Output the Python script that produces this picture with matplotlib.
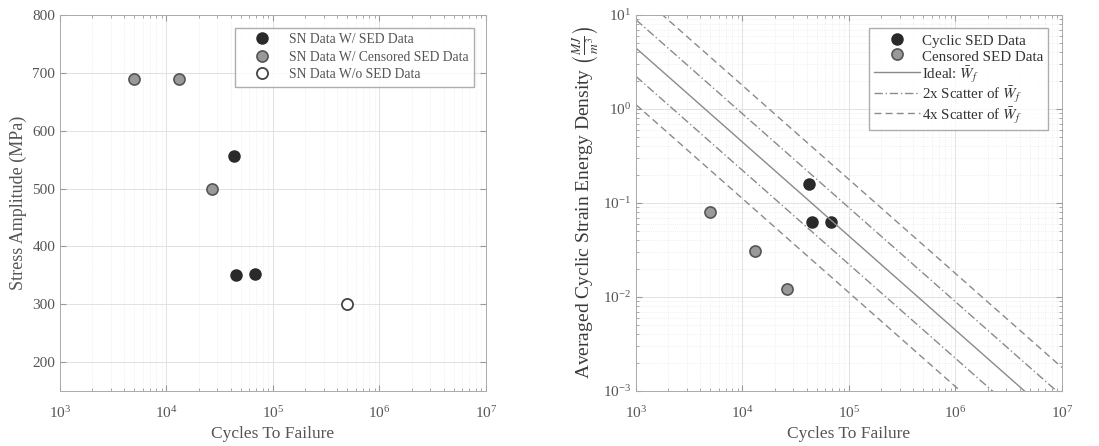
import numpy as np
import matplotlib
matplotlib.use('Agg')
import matplotlib.pyplot as plt
from matplotlib.ticker import LogLocator, NullFormatter

plt.rcParams['font.family'] = ['Liberation Serif', 'DejaVu Serif']
plt.rcParams['mathtext.fontset'] = 'stix'

# SN data (left panel)
sn_sed_N = [42700, 45300, 67800]
sn_sed_S = [557, 350, 353]
sn_cens_N = [5000, 13000, 26500]
sn_cens_S = [690, 690, 500]
sn_nosed_N = [500000]
sn_nosed_S = [300]

# SED data (right panel)
sed_N = [42400, 45200, 67100]
sed_W = [0.159, 0.0624, 0.0624]
cens_N = [5000, 13000, 26400]
cens_W = [0.081, 0.031, 0.0121]

# ideal fit W = C * N^b
fit_C = 4.45e3
fit_b = -1.0
scatter_factors = [2, 4]

dark = '#2a2a2a'
mid = '#999999'
txt = '#555555'
linecol = '#8a8a8a'

fig = plt.figure(figsize=(10.99, 4.46), dpi=100)
ax1 = fig.add_axes([0.0546, 0.1233, 0.3876, 0.843])
ax2 = fig.add_axes([0.5787, 0.1233, 0.3876, 0.843])


def style_axes(ax):
    ax.set_xscale('log')
    ax.set_xlim(1e3, 1e7)
    ax.grid(True, which='major', color='#dddddd', lw=0.6)
    ax.grid(True, which='minor', color='#e6e6e6', lw=0.5, ls=':')
    ax.tick_params(which='both', direction='in', top=True, right=True,
                   colors='#999999', labelcolor=txt, labelsize=11)
    ax.tick_params(which='major', length=4)
    ax.tick_params(which='minor', length=2)
    ax.tick_params(axis='x', which='both', pad=10)
    for sp in ax.spines.values():
        sp.set_color('#aaaaaa')
        sp.set_linewidth(0.7)
    ax.set_axisbelow(True)


# left panel
style_axes(ax1)
ms = 8
ax1.plot(sn_sed_N, sn_sed_S, 'o', ms=ms, mfc=dark, mec=dark, label='SN Data W/ SED Data')
ax1.plot(sn_cens_N, sn_cens_S, 'o', ms=ms, mfc=mid, mec='#555555', mew=1.2,
         label='SN Data W/ Censored SED Data')
ax1.plot(sn_nosed_N, sn_nosed_S, 'o', ms=ms, mfc='white', mec='#444444', mew=1.3,
         label='SN Data W/o SED Data')
ax1.set_ylim(150, 800)
ax1.set_yticks(range(200, 801, 100))
ax1.set_xlabel('Cycles To Failure', fontsize=12.5, color=txt, labelpad=4)
ax1.set_ylabel('Stress Amplitude (MPa)', fontsize=13, color=txt, labelpad=4)
leg1 = ax1.legend(loc='upper right', bbox_to_anchor=(0.972, 0.966), fontsize=9.8,
                  frameon=True, fancybox=False, edgecolor='#999999',
                  borderaxespad=0, handlelength=3.1, handletextpad=0.45,
                  borderpad=0.4, labelspacing=0.33)
for t in leg1.get_texts():
    t.set_color(txt)

# right panel
style_axes(ax2)
ax2.set_yscale('log')
ax2.set_ylim(1e-3, 1e1)
ax2.yaxis.set_minor_locator(LogLocator(base=10, subs=np.arange(2, 10)))
ax2.yaxis.set_minor_formatter(NullFormatter())
ax2.plot(sed_N, sed_W, 'o', ms=ms, mfc=dark, mec=dark, label='Cyclic SED Data')
ax2.plot(cens_N, cens_W, 'o', ms=ms, mfc=mid, mec='#555555', mew=1.2,
         label='Censored SED Data')
Nline = np.logspace(3, 7, 200)
ideal = fit_C * Nline ** fit_b
ax2.plot(Nline, ideal, '-', color=linecol, lw=1.0, label=r'Ideal: $\bar{W}_f$')
ls_map = {2: (0, (6, 2, 1, 2)), 4: (0, (5, 3))}
for k in scatter_factors:
    ax2.plot(Nline, ideal * k, color=linecol, lw=1.0, ls=ls_map[k],
             label=r'%dx Scatter of $\bar{W}_f$' % k)
    ax2.plot(Nline, ideal / k, color=linecol, lw=1.0, ls=ls_map[k])
ax2.set_xlabel('Cycles To Failure', fontsize=12.5, color=txt, labelpad=4)
ax2.set_ylabel(r'Averaged Cyclic Strain Energy Density $\left(\frac{MJ}{m^3}\right)$',
               fontsize=14, color='#3a3a3a', labelpad=1)
leg2 = ax2.legend(loc='upper right', bbox_to_anchor=(0.968, 0.966), fontsize=10.8,
                  frameon=True, fancybox=False, edgecolor='#999999',
                  borderaxespad=0, handlelength=3.1, handletextpad=0.15,
                  handleheight=1.2, borderpad=0.3, labelspacing=0.0)
for t in leg2.get_texts():
    t.set_color('#333333')

fig.savefig('out.png', dpi=100)
